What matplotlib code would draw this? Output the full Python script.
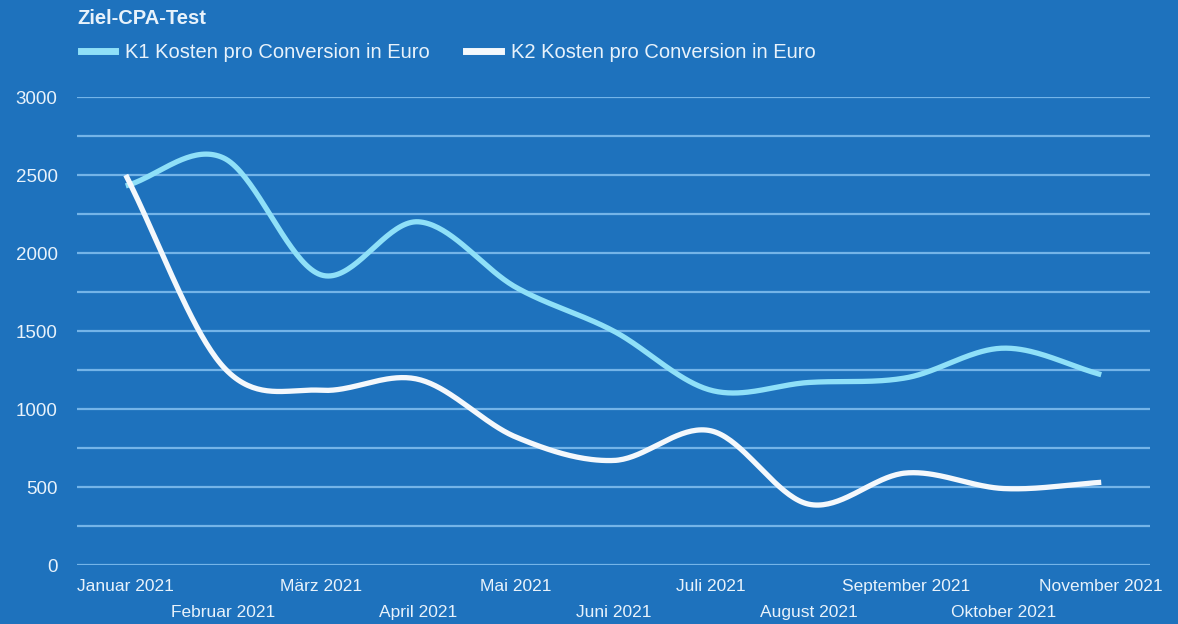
import numpy as np
import matplotlib
matplotlib.use("Agg")
import matplotlib.pyplot as plt
from matplotlib.lines import Line2D

months = ["Januar 2021", "Februar 2021", "März 2021", "April 2021", "Mai 2021",
          "Juni 2021", "Juli 2021", "August 2021", "September 2021",
          "Oktober 2021", "November 2021"]
k1 = [2430, 2610, 1860, 2200, 1780, 1500, 1120, 1170, 1200, 1390, 1220]
k2 = [2500, 1270, 1120, 1190, 820, 670, 860, 390, 590, 490, 530]
series_names = ["K1 Kosten pro Conversion in Euro", "K2 Kosten pro Conversion in Euro"]
title = "Ziel-CPA-Test"

BG = "#1e72bd"
CYAN = "#8fe0f8"
WHITE = "#f4f8fc"
GRID = "#74b4e8"
TXT = "#e8f2fb"

plt.rcParams['font.family'] = ['Liberation Sans', 'DejaVu Sans']


def smooth(y, n=40):
    """Catmull-Rom spline through the data points (Excel-like smoothing)."""
    y = np.asarray(y, float)
    x = np.arange(len(y), dtype=float)
    P = np.concatenate([[2 * y[0] - y[1]], y, [2 * y[-1] - y[-2]]])
    xs, ys = [], []
    for i in range(len(y) - 1):
        p0, p1, p2, p3 = P[i], P[i + 1], P[i + 2], P[i + 3]
        t = np.linspace(0, 1, n, endpoint=False)
        v = 0.5 * ((2 * p1) + (-p0 + p2) * t + (2 * p0 - 5 * p1 + 4 * p2 - p3) * t ** 2
                   + (-p0 + 3 * p1 - 3 * p2 + p3) * t ** 3)
        xs.append(x[i] + t)
        ys.append(v)
    xs.append([x[-1]])
    ys.append([y[-1]])
    return np.concatenate(xs), np.concatenate(ys)


fig = plt.figure(figsize=(11.78, 6.24), dpi=100, facecolor=BG)
ax = fig.add_axes([77 / 1178, 1 - 565 / 624, (1150 - 77) / 1178, (565 - 97) / 624])
ax.set_facecolor(BG)

ax.set_ylim(0, 3000)
ax.set_xlim(-0.5, len(months) - 0.5)
ax.set_yticks(np.arange(0, 3001, 500))
ax.set_yticks(np.arange(250, 3000, 500), minor=True)
ax.grid(axis='y', which='both', color=GRID, linewidth=1.6)
ax.set_axisbelow(True)
for s in ax.spines.values():
    s.set_visible(False)
ax.tick_params(axis='y', which='both', length=0, colors=TXT, labelsize=13.5, pad=14)

# alternating two-row category labels
even = list(range(0, len(months), 2))
odd = list(range(1, len(months), 2))
ax.set_xticks(even)
ax.set_xticklabels([months[i] for i in even])
ax.set_xticks(odd, minor=True)
ax.set_xticklabels([months[i] for i in odd], minor=True)
ax.tick_params(axis='x', which='major', length=0, colors=TXT, labelsize=12.5, pad=10)
ax.tick_params(axis='x', which='minor', length=0, colors=TXT, labelsize=12.5, pad=29)

x1, y1 = smooth(k1)
x2, y2 = smooth(k2)
ax.plot(x1, y1, color=CYAN, lw=3.8, solid_capstyle='butt', zorder=3)
ax.plot(x2, y2, color=WHITE, lw=3.8, solid_capstyle='butt', zorder=4)

fig.text(77 / 1178, 1 - 18 / 624, title, color=TXT, fontsize=14.5,
         fontweight='bold', va='center', ha='left')

handles = [Line2D([], [], color=CYAN, lw=5), Line2D([], [], color=WHITE, lw=5)]
fig.legend(handles, series_names, loc='center left',
           bbox_to_anchor=(75 / 1178, 1 - 53 / 624), ncol=2, frameon=False,
           fontsize=14.5, labelcolor=TXT, handlelength=1.7, handletextpad=0.5,
           columnspacing=1.8, borderaxespad=0, borderpad=0.3)

fig.savefig("out.png", dpi=100, facecolor=BG)
